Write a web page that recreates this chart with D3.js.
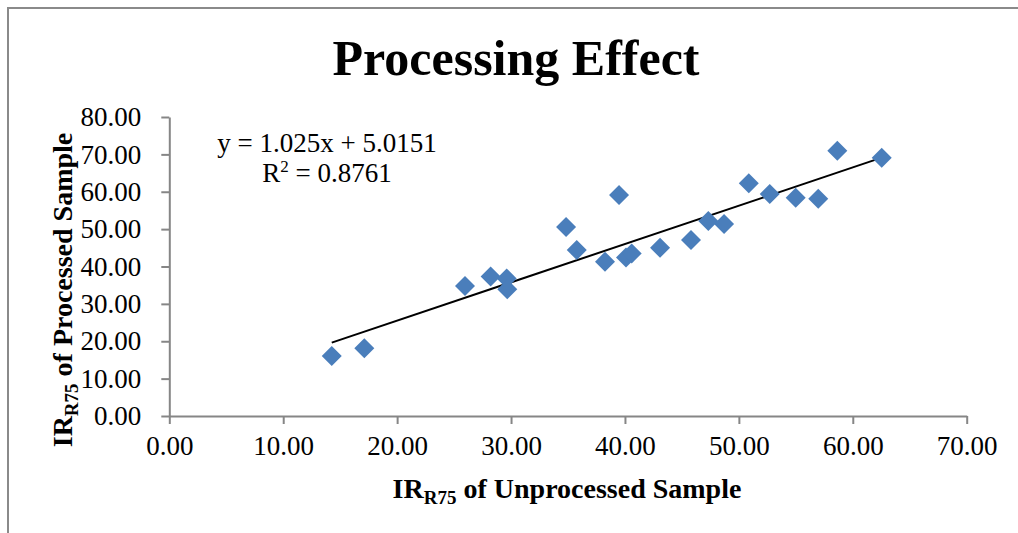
<!DOCTYPE html>
<html>
<head>
<meta charset="utf-8">
<script src="https://cdn.jsdelivr.net/npm/d3@7"></script>
<style>
  html, body { margin: 0; padding: 0; background: #fff; }
  svg { display: block; font-family: "Liberation Serif", "Times New Roman", serif; }
  .axis path, .axis line { stroke: #868686; stroke-width: 2; }
  .axis text { fill: #000; font-size: 27px; }
</style>
</head>
<body>
<svg id="chart" width="1018" height="533"></svg>
<script>
// unprocessed vs processed IR_R75 readings
var unprocessed = [14.26, 17.12, 25.96, 28.21, 29.62, 29.67, 34.83, 35.77, 38.25, 39.48, 40.09,
                   40.59, 43.08, 45.8, 47.32, 48.7, 50.87, 52.71, 54.99, 56.97, 58.64, 62.54];
var processed   = [16.05, 18.1, 34.8, 37.3, 36.8, 33.9, 50.6, 44.4, 41.3, 59.1, 42.4,
                   43.5, 45.0, 47.1, 52.2, 51.4, 62.3, 59.4, 58.4, 58.1, 71.0, 69.1];

// linear trend reported on the chart
var slope = 1.025, intercept = 5.0151, rSquared = 0.8761;

var xTicks = [0, 10, 20, 30, 40, 50, 60, 70];
var yTicks = [0, 10, 20, 30, 40, 50, 60, 70, 80];

var points = unprocessed.map(function(x, i) { return {x: x, y: processed[i]} });

var svg = d3.select('#chart');

// outer chart frame (only top and left edges show inside the window)
svg.append('rect')
    .attr('x', 8).attr('y', 8)
    .attr('width', 1100).attr('height', 600)
    .attr('fill', 'none')
    .attr('stroke', '#8a8a8a')
    .attr('stroke-width', 2)

const xScale = d3.scaleLinear().domain([0, 70]).range([169.3, 966.7])
const yScale = d3.scaleLinear().domain([0, 80]).range([416, 117])

svg.append('g')
    .attr('class', 'axis')
    .attr('transform', 'translate(0,' + yScale(0) + ')')
    .call(d3.axisBottom(xScale).tickValues(xTicks).tickFormat(d3.format('.2f')).tickSize(8).tickSizeOuter(0).tickPadding(12))

svg.append('g')
    .attr('class', 'axis')
    .attr('transform', 'translate(' + xScale(0) + ',0)')
    .call(d3.axisLeft(yScale).tickValues(yTicks).tickFormat(d3.format('.2f')).tickSize(8).tickSizeOuter(0).tickPadding(20))

svg.selectAll('.axis text').attr('font-family', '"Liberation Serif", serif')

// trendline across the range of the data
var xExt = d3.extent(unprocessed);
var trend = xExt.map(function(x) { return {x: x, y: slope * x + intercept} });

svg.append('path')
    .datum(trend)
    .attr('fill', 'none')
    .attr('stroke', '#000')
    .attr('stroke-width', 2)
    .attr('d', d3.line()
      .x(function(d) { return xScale(d.x) })
      .y(function(d) { return yScale(d.y) }))

// diamond markers
svg.append('g')
  .selectAll('path')
  .data(points)
  .enter()
    .append('path')
    .attr('d', d3.symbol().type(d3.symbolSquare).size(200))
    .attr('transform', function(d) { return 'translate(' + xScale(d.x) + ',' + yScale(d.y) + ') rotate(45)' })
    .attr('fill', '#4a7ebb')

// title
svg.append('text')
    .attr('x', 516).attr('y', 75)
    .attr('text-anchor', 'middle')
    .attr('font-size', 50)
    .attr('font-weight', 'bold')
    .text('Processing Effect')

// trendline label
var eq = svg.append('text')
    .attr('text-anchor', 'middle')
    .attr('font-size', 27)
eq.append('tspan').attr('x', 327).attr('y', 152)
    .text('y = ' + slope + 'x + ' + intercept)
var r2 = eq.append('tspan').attr('x', 327).attr('y', 182)
r2.append('tspan').text('R')
r2.append('tspan').attr('font-size', 17).attr('dy', -10).text('2')
r2.append('tspan').attr('dy', 10).text(' = ' + rSquared)

// axis titles with subscripted R75
function axisTitle(sel, rest) {
  sel.append('tspan').text('IR')
  sel.append('tspan').attr('font-size', 19).attr('dy', 6).text('R75')
  sel.append('tspan').attr('dy', -6).text(' ' + rest)
}

svg.append('text')
    .attr('x', 567).attr('y', 498)
    .attr('text-anchor', 'middle')
    .attr('font-size', 28)
    .attr('font-weight', 'bold')
    .call(axisTitle, 'of Unprocessed Sample')

svg.append('text')
    .attr('transform', 'translate(72,290) rotate(-90)')
    .attr('text-anchor', 'middle')
    .attr('font-size', 28)
    .attr('font-weight', 'bold')
    .call(axisTitle, 'of Processed Sample')
</script>
</body>
</html>
